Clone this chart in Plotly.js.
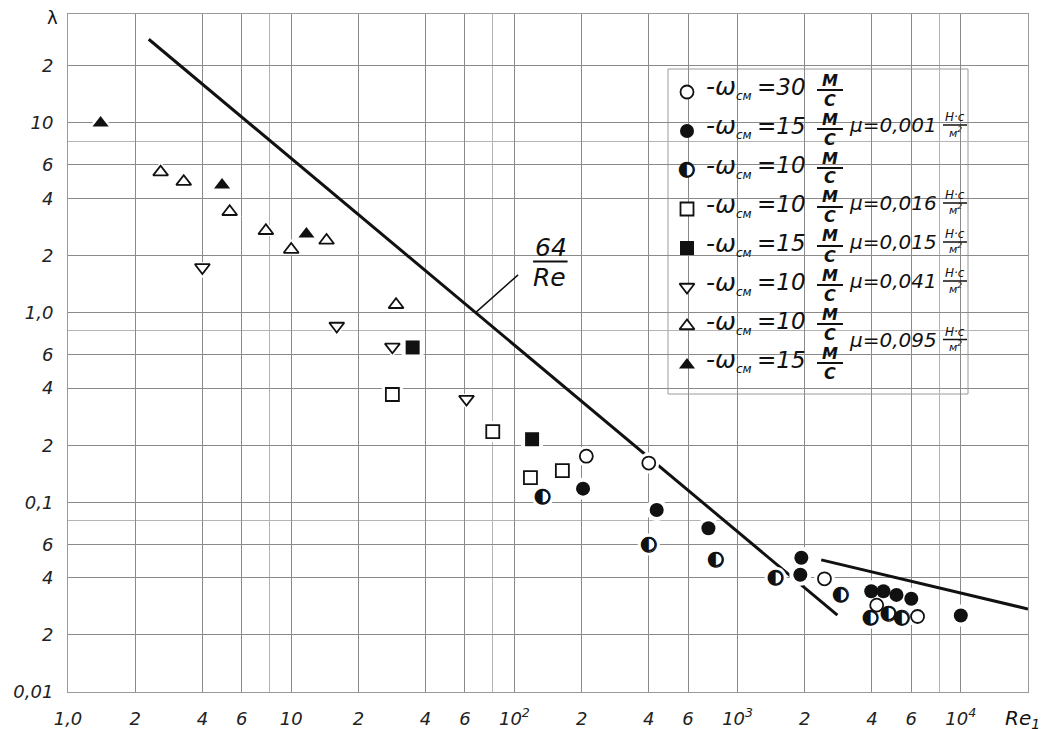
<!DOCTYPE html>
<html><head><meta charset="utf-8">
<script src="https://cdn.plot.ly/plotly-3.0.1.min.js"></script>
<style>html,body{margin:0;padding:0;background:#fff}#chart{width:1050px;height:729px}</style>
</head><body><div id="chart"></div>
<script>
// ---------- data (Re1, lambda) ----------
const openCircleRe   = [210, 400, 2450, 4200, 6400];
const openCircleLam  = [0.175, 0.161, 0.0395, 0.0287, 0.025];
const filledCircleRe  = [203, 434, 740, 1910, 1930, 3970, 4500, 5150, 6000, 10000];
const filledCircleLam = [0.118, 0.091, 0.073, 0.0415, 0.051, 0.034, 0.034, 0.0325, 0.031, 0.0253];
const halfCircleRe   = [134, 400, 800, 1480, 2900, 3950, 4750, 5450];
const halfCircleLam  = [0.107, 0.06, 0.05, 0.04, 0.0325, 0.0246, 0.026, 0.0245];
const openSquareRe   = [28.4, 80, 118, 164];
const openSquareLam  = [0.37, 0.236, 0.135, 0.147];
const filledSquareRe  = [35, 120];
const filledSquareLam = [0.655, 0.215];
const downTriRe      = [4, 16, 28.4, 61];
const downTriLam     = [1.73, 0.85, 0.66, 0.35];
const openTriRe      = [2.6, 3.3, 5.3, 7.7, 10, 14.4, 29.5];
const openTriLam     = [5.5, 4.9, 3.4, 2.7, 2.15, 2.4, 1.1];
const filledTriRe    = [1.4, 4.9, 11.7];
const filledTriLam   = [10, 4.7, 2.6];
const laminarRe  = [2.3, 2800];
const laminarLam = [27.6, 0.0254];
const turbRe     = [2370, 20000];
const turbLam    = [0.0497, 0.0274];

// ---------- ticks ----------
const xTickVals = [1,2,4,6,10,20,40,60,100,200,400,600,1000,2000,4000,6000,10000];
const xTickText = ['1,0','2','4','6','10','2','4','6','10<sup>2</sup>','2','4','6','10<sup>3</sup>','2','4','6','10<sup>4</sup>'];
const xMinorVals = [8, 80, 8000];
const yTickVals = [0.01,0.02,0.04,0.06,0.1,0.2,0.4,0.6,1,2,4,6,10,20];
const yTickText = ['0,01','2','4','6','0,1','2','4','6','1,0','2','4','6','10','2'];
const yMinorVals = [0.08, 0.8, 8];

// ---------- legend texts ----------
const legendSpeed = ['30','15','10','10','15','10','10','15'];
const legendMu = ['μ=0,001','μ=0,016','μ=0,015','μ=0,041','μ=0,095'];
const legendMuRow = [1, 3, 4, 5, 6.5];

// ---------- layout helpers (pixel -> paper) ----------
const L = 68, R = 1028, T = 14, B = 692;
const PX = p => (p - L) / (R - L);
const PY = p => (B - p) / (B - T);
const FONT = 'DejaVu Sans, Liberation Sans, Arial, sans-serif';

const styles = [
  {re: openCircleRe, lam: openCircleLam, sym: 'circle', size: 13, color: '#fff', lw: 1.8},
  {re: filledCircleRe, lam: filledCircleLam, sym: 'circle', size: 14, color: '#111', lw: 0},
  {re: halfCircleRe, lam: halfCircleLam, half: true},
  {re: openSquareRe, lam: openSquareLam, sym: 'square', size: 13, color: '#fff', lw: 1.8},
  {re: filledSquareRe, lam: filledSquareLam, sym: 'square', size: 14, color: '#111', lw: 0},
  {re: downTriRe, lam: downTriLam, sym: 'triangle-down', size: 13, color: '#fff', lw: 1.8},
  {re: openTriRe, lam: openTriLam, sym: 'triangle-up', size: 13, color: '#fff', lw: 1.8},
  {re: filledTriRe, lam: filledTriLam, sym: 'triangle-up', size: 14, color: '#111', lw: 0}
];

const traces = [];
traces.push({x: laminarRe, y: laminarLam, mode: 'lines', line: {color: '#111', width: 3}, hoverinfo: 'skip'});
traces.push({x: turbRe, y: turbLam, mode: 'lines', line: {color: '#111', width: 3}, hoverinfo: 'skip'});
// halos
styles.forEach(s => {
  traces.push({x: s.re, y: s.lam, mode: 'markers', hoverinfo: 'skip', cliponaxis: false,
    marker: {symbol: s.half ? 'circle' : s.sym, size: (s.half ? 14 : s.size) + 8, color: '#fff', line: {width: 0}}});
});
function markerTraces(s, x, y, xa, ya) {
  if (s.half) {
    return [
      {x: x, y: y, xaxis: xa, yaxis: ya, mode: 'markers', hoverinfo: 'skip', cliponaxis: false,
        marker: {symbol: 'circle', size: 13, color: '#fff', line: {color: '#111', width: 1.8}}},
      {x: x, y: y, xaxis: xa, yaxis: ya, mode: 'text', text: x.map(() => '◐'),
        textposition: 'middle center', textfont: {family: 'DejaVu Sans', size: 21, color: '#111'},
        hoverinfo: 'skip', cliponaxis: false}
    ];
  }
  return [{x: x, y: y, xaxis: xa, yaxis: ya, mode: 'markers', hoverinfo: 'skip', cliponaxis: false,
    marker: {symbol: s.sym, size: s.size, color: s.color, line: {color: '#111', width: s.lw}}}];
}
styles.forEach(s => traces.push(...markerTraces(s, s.re, s.lam, 'x', 'y')));

// legend keys on an overlay paper-like axis
const rowY = legendSpeed.map((_, i) => 92 + 39 * i);
styles.forEach((s, i) => traces.push(...markerTraces(s, [PX(687)], [PY(rowY[i])], 'x2', 'y2')));

const annotations = [];
const shapes = [];
shapes.push({type: 'rect', xref: 'paper', yref: 'paper', x0: PX(668), x1: PX(968), y0: PY(394), y1: PY(69),
  fillcolor: '#fff', line: {color: '#9a9a9a', width: 1}, layer: 'between'});

const italic = (size, weight) => ({family: FONT, size: size, color: '#111', style: 'italic', weight: weight || 'normal'});
legendSpeed.forEach((sp, i) => {
  const y = rowY[i];
  annotations.push({xref: 'paper', yref: 'paper', x: PX(704), y: PY(y - 4), xanchor: 'left', yanchor: 'middle',
    text: '-ω<sub><span style="font-size:12px">см</span></sub>', showarrow: false, font: italic(25)});
  annotations.push({xref: 'paper', yref: 'paper', x: PX(808), y: PY(y - 5), xanchor: 'right', yanchor: 'middle',
    text: '=' + sp, showarrow: false, font: italic(23)});
  annotations.push({xref: 'paper', yref: 'paper', x: PX(830), y: PY(y - 12), xanchor: 'center', yanchor: 'middle',
    text: 'M', showarrow: false, font: italic(16, 'bold')});
  annotations.push({xref: 'paper', yref: 'paper', x: PX(830), y: PY(y + 8), xanchor: 'center', yanchor: 'middle',
    text: 'C', showarrow: false, font: italic(16, 'bold')});
  shapes.push({type: 'line', xref: 'paper', yref: 'paper', x0: PX(817), x1: PX(843), y0: PY(y - 2), y1: PY(y - 2),
    line: {color: '#111', width: 2}});
});
legendMu.forEach((m, j) => {
  const y = 92 + 39 * legendMuRow[j] - 6;
  annotations.push({xref: 'paper', yref: 'paper', x: PX(847), y: PY(y), xanchor: 'left', yanchor: 'middle',
    text: m, showarrow: false, font: italic(20)});
  annotations.push({xref: 'paper', yref: 'paper', x: PX(955), y: PY(y - 8), xanchor: 'center', yanchor: 'middle',
    text: 'H·c', showarrow: false, font: italic(12)});
  annotations.push({xref: 'paper', yref: 'paper', x: PX(955), y: PY(y + 7), xanchor: 'center', yanchor: 'middle',
    text: 'м<sup>2</sup>', showarrow: false, font: italic(11)});
  shapes.push({type: 'line', xref: 'paper', yref: 'paper', x0: PX(943), x1: PX(967), y0: PY(y), y1: PY(y),
    line: {color: '#111', width: 1.5}});
});

// 64/Re label anchored to the laminar line where lambda = 1
const lx0 = Math.log10(laminarRe[0]), lx1 = Math.log10(laminarRe[1]);
const ly0 = Math.log10(laminarLam[0]), ly1 = Math.log10(laminarLam[1]);
const tipX = lx0 + (ly0 - 0) / (ly0 - ly1) * (lx1 - lx0);
annotations.push({xref: 'x', yref: 'y', x: tipX, y: 0, text: ' ', font: {size: 1}, showarrow: true, arrowhead: 0,
  arrowwidth: 1.5, arrowcolor: '#111', ax: 44, ay: -39, standoff: 0});
annotations.push({xref: 'x', yref: 'y', x: tipX, y: 0, xshift: 75, yshift: 65, text: '64', showarrow: false, font: italic(25)});
annotations.push({xref: 'x', yref: 'y', x: tipX, y: 0, xshift: 74, yshift: 35, text: 'Re', showarrow: false, font: italic(25)});
annotations.push({xref: 'x', yref: 'y', x: tipX, y: 0, xshift: 92, yshift: 51, text: ' ', font: {size: 1}, showarrow: true,
  arrowhead: 0, arrowwidth: 2, arrowcolor: '#111', ax: -36, ay: 0, standoff: 0});

// axis titles
annotations.push({xref: 'paper', yref: 'paper', x: PX(52), y: PY(18), xanchor: 'center', yanchor: 'middle',
  text: 'λ', showarrow: false, font: {family: FONT, size: 18, color: '#111'}});
annotations.push({xref: 'paper', yref: 'paper', x: PX(1003), y: PY(719), xanchor: 'left', yanchor: 'middle',
  text: 'Re<sub>1</sub>', showarrow: false, font: italic(20)});

const axisCommon = {
  type: 'log', tickmode: 'array', showgrid: true, gridcolor: '#8a8a8a', gridwidth: 1, zeroline: false,
  showline: true, mirror: true, linecolor: '#9a9a9a', linewidth: 1, ticks: '',
  tickfont: {family: FONT, size: 18, color: '#222', style: 'italic'}
};
const layout = {
  width: 1050, height: 729, margin: {l: L, r: 1050 - R, t: T, b: 729 - B},
  paper_bgcolor: '#fff', plot_bgcolor: '#fff', showlegend: false,
  xaxis: Object.assign({}, axisCommon, {range: [0, Math.log10(20000)], tickvals: xTickVals, ticktext: xTickText,
    ticklabelstandoff: 10,
    minor: {tickmode: 'array', tickvals: xMinorVals, showgrid: true, gridcolor: '#b4b4b4', ticks: ''}}),
  yaxis: Object.assign({}, axisCommon, {range: [-2, Math.log10(37.5)], tickvals: yTickVals, ticktext: yTickText,
    ticklabelstandoff: 10,
    minor: {tickmode: 'array', tickvals: yMinorVals, showgrid: true, gridcolor: '#b4b4b4', ticks: ''}}),
  xaxis2: {overlaying: 'x', range: [0, 1], visible: false, fixedrange: true},
  yaxis2: {overlaying: 'y', range: [0, 1], visible: false, fixedrange: true},
  annotations: annotations,
  shapes: shapes
};
Plotly.newPlot('chart', traces, layout, {staticPlot: true});
</script></body></html>
